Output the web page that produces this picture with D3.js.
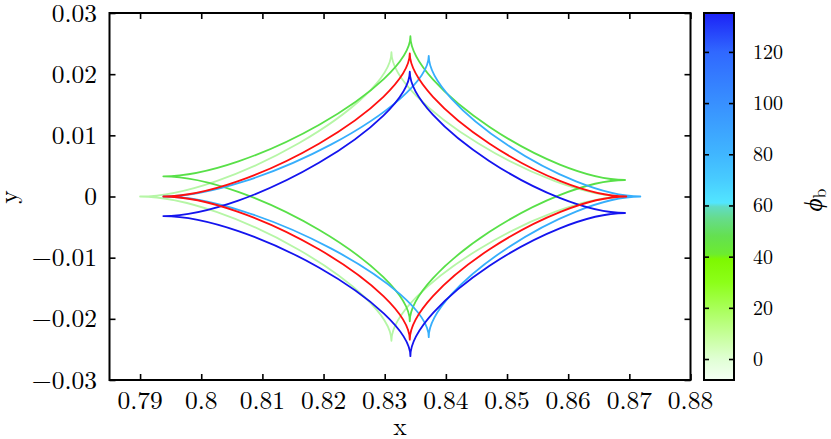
<!DOCTYPE html>
<html><head><meta charset="utf-8">
<script src="https://cdn.jsdelivr.net/npm/d3@7"></script>
<style>
body{margin:0;background:#fff}
svg{display:block}
</style>
</head><body>
<svg id="chart" width="831" height="439"></svg>
<script>
// ---------------- data ----------------
const xTicks = [0.79, 0.80, 0.81, 0.82, 0.83, 0.84, 0.85, 0.86, 0.87, 0.88];
const xTickLabels = ["0.79", "0.8", "0.81", "0.82", "0.83", "0.84", "0.85", "0.86", "0.87", "0.88"];
const yTicks = [-0.03, -0.02, -0.01, 0, 0.01, 0.02, 0.03];
const yTickLabels = ["\u22120.03", "\u22120.02", "\u22120.01", "0", "0.01", "0.02", "0.03"];
const cbTicks = [0, 20, 40, 60, 80, 100, 120];
const cbTickLabels = ["0", "20", "40", "60", "80", "100", "120"];

// curve series (draw order) and colours
const curveNames = ["phi_b = 0", "phi_b = 45", "phi_b = 90", "phi_b = 135", "reference"];
const curveColors = ["#b6f6a6", "#58e048", "#36aefc", "#1414ee", "#ff1010"];
// caustic cusps: [left, top, right, bottom] as [x, y]
const cuspsPhi0   = [[0.7900, 0.0000], [0.8311, 0.0236], [0.8695, 0.0000], [0.8311, -0.0236]];
const cuspsPhi45  = [[0.7938, 0.0033], [0.8342, 0.0262], [0.8693, 0.0027], [0.8341, -0.0204]];
const cuspsPhi90  = [[0.7938, 0.0000], [0.8372, 0.0230], [0.8718, 0.0000], [0.8372, -0.0230]];
const cuspsPhi135 = [[0.7938, -0.0032], [0.8341, 0.0204], [0.8693, -0.0027], [0.8342, -0.0261]];
const cuspsRef    = [[0.7938, 0.0000], [0.8341, 0.0234], [0.8695, 0.0000], [0.8341, -0.0234]];
const curveCusps = [cuspsPhi0, cuspsPhi45, cuspsPhi90, cuspsPhi135, cuspsRef];

// colour bar colour stops (value, colour)
const cbStopValues = [-8.2, 0, 10, 20, 30, 39, 41, 48, 55, 59.5, 61, 70, 80, 100, 120, 135.2];
const cbStopColors = ["#f4fff4", "#e0ffd4", "#c4ff96", "#a8ff58", "#8cff18", "#7ef800", "#6cec30", "#64e050", "#66dc8c", "#60dcc4", "#52e6ff", "#48ccff", "#40b6ff", "#3890ff", "#3068ff", "#1c22f6"];
const cbDomain = [-8.2, 135.2];

// ---------------- layout ----------------
const FONT = "'Latin Modern Roman', 'Liberation Serif', serif";
const FS = 25.5;
const svg = d3.select("#chart");
const L = 109.5, R = 690.5, T = 13, B = 380;
const x = d3.scaleLinear().domain([0.785, 0.88]).range([L, R]);
const y = d3.scaleLinear().domain([-0.03, 0.03]).range([B, T]);

// curves
const bend = 0.65;
function causticPath(c) {
  const p = c.map(d => [x(d[0]), y(d[1])]);
  const path = d3.path();
  path.moveTo(p[0][0], p[0][1]);
  for (let i = 0; i < 4; i++) {
    const a = p[i], b = p[(i + 1) % 4];
    const h = (i % 2 === 0) ? a : b;
    const v = (i % 2 === 0) ? b : a;
    const corner = [v[0], h[1]];
    const c1 = [corner[0] + bend * (a[0] - corner[0]), corner[1] + bend * (a[1] - corner[1])];
    const c2 = [corner[0] + bend * (b[0] - corner[0]), corner[1] + bend * (b[1] - corner[1])];
    path.bezierCurveTo(c1[0], c1[1], c2[0], c2[1], b[0], b[1]);
  }
  path.closePath();
  return path.toString();
}

const plot = svg.append("g");
plot.selectAll("path.curve").data(curveCusps).join("path")
  .attr("class", "curve")
  .attr("d", causticPath)
  .attr("fill", "none")
  .attr("stroke", (d, i) => curveColors[i])
  .attr("stroke-width", 1.8)
  .attr("stroke-linejoin", "round");

// axes (inward ticks on all four sides)
const tl = 6;
svg.append("g").attr("transform", `translate(0,${B})`)
  .call(d3.axisBottom(x).tickValues(xTicks).tickSize(-tl).tickFormat(""))
  .call(g => g.select(".domain").remove());
svg.append("g").attr("transform", `translate(0,${T})`)
  .call(d3.axisTop(x).tickValues(xTicks).tickSize(-tl).tickFormat(""))
  .call(g => g.select(".domain").remove());
svg.append("g").attr("transform", `translate(${L},0)`)
  .call(d3.axisLeft(y).tickValues(yTicks).tickSize(-tl).tickFormat(""))
  .call(g => g.select(".domain").remove());
svg.append("g").attr("transform", `translate(${R},0)`)
  .call(d3.axisRight(y).tickValues(yTicks).tickSize(-tl).tickFormat(""))
  .call(g => g.select(".domain").remove());
svg.selectAll(".tick line").attr("stroke", "#000").attr("stroke-width", 1.6);

svg.append("rect").attr("x", L).attr("y", T).attr("width", R - L).attr("height", B - T)
  .attr("fill", "none").attr("stroke", "#000").attr("stroke-width", 2);

// tick labels
svg.append("g").selectAll("text").data(xTicks).join("text")
  .style("font-family", FONT)
  .attr("x", d => x(d)).attr("y", 409).attr("text-anchor", "middle")
  .attr("font-size", FS).text((d, i) => xTickLabels[i]);
svg.append("g").selectAll("text").data(yTicks).join("text")
  .style("font-family", FONT)
  .attr("x", 97).attr("y", d => y(d) + 8.5).attr("text-anchor", "end")
  .attr("font-size", FS).text((d, i) => yTickLabels[i]);

// axis titles
svg.append("text").style("font-family", FONT).attr("x", 400).attr("y", 435).attr("text-anchor", "middle")
  .attr("font-size", FS).text("x");
svg.append("text").style("font-family", FONT).attr("transform", "translate(17,197) rotate(-90)").attr("text-anchor", "middle")
  .attr("font-size", FS).text("y");

// colour bar
const cbL = 704, cbR = 734;
const cy = d3.scaleLinear().domain(cbDomain).range([B, T]);
const defs = svg.append("defs");
const grad = defs.append("linearGradient").attr("id", "cbgrad")
  .attr("x1", 0).attr("y1", 1).attr("x2", 0).attr("y2", 0);
grad.selectAll("stop").data(cbStopValues).join("stop")
  .attr("offset", d => (d - cbDomain[0]) / (cbDomain[1] - cbDomain[0]))
  .attr("stop-color", (d, i) => cbStopColors[i]);
svg.append("rect").attr("x", cbL).attr("y", T).attr("width", cbR - cbL).attr("height", B - T)
  .attr("fill", "url(#cbgrad)");
svg.append("g").attr("transform", `translate(${cbL},0)`)
  .call(d3.axisLeft(cy).tickValues(cbTicks).tickSize(-5).tickFormat(""))
  .call(g => g.select(".domain").remove())
  .selectAll(".tick line").attr("stroke", "#000").attr("stroke-width", 1.6);
svg.append("g").attr("transform", `translate(${cbR},0)`)
  .call(d3.axisRight(cy).tickValues(cbTicks).tickSize(-5).tickFormat(""))
  .call(g => g.select(".domain").remove())
  .selectAll(".tick line").attr("stroke", "#000").attr("stroke-width", 1.6);
svg.append("rect").attr("x", cbL).attr("y", T).attr("width", cbR - cbL).attr("height", B - T)
  .attr("fill", "none").attr("stroke", "#000").attr("stroke-width", 2);
svg.append("g").selectAll("text").data(cbTicks).join("text")
  .style("font-family", FONT)
  .attr("x", 753).attr("y", d => cy(d) + 7).attr("font-size", 20)
  .text((d, i) => cbTickLabels[i]);

const cbt = svg.append("text").style("font-family", FONT).attr("transform", "translate(822,200) rotate(-90)")
  .attr("text-anchor", "middle").attr("font-size", FS);
cbt.append("tspan").attr("font-style", "italic").text("\u03D5");
cbt.append("tspan").attr("font-size", 18).attr("dy", 4).text("b");
</script>
</body></html>
